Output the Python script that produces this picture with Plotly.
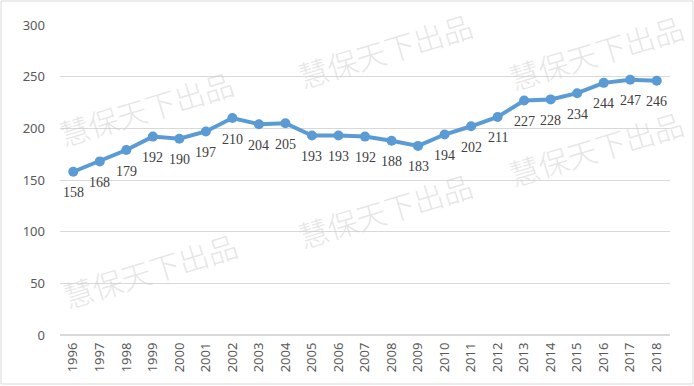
import plotly.graph_objects as go

years = [str(y) for y in range(1996, 2019)]
values = [158, 168, 179, 192, 190, 197, 210, 204, 205, 193, 193, 192, 188, 183,
          194, 202, 211, 227, 228, 234, 244, 247, 246]
y_ticks = [0, 50, 100, 150, 200, 250, 300]
watermark = "慧保天下出品"

fig = go.Figure()
fig.add_trace(go.Scatter(
    x=years, y=values, mode="lines+markers",
    line=dict(color="#5B9BD5", width=4),
    marker=dict(color="#5B9BD5", size=10),
    cliponaxis=False, hoverinfo="skip",
))

# data labels below points (category index positions on the x axis)
for i, v in enumerate(values):
    fig.add_annotation(
        x=i, y=v, xref="x", yref="y", text=str(v), showarrow=False,
        yshift=-21, xanchor="center", yanchor="middle",
        font=dict(family="Liberation Serif", size=14, color="#404040"),
    )

# watermarks (paper coordinates)
wm_pos = [(146, 108), (385, 50), (596, 148), (385, 210), (150, 270), (596, 52)]
for (px, py) in wm_pos:
    fig.add_annotation(
        x=(px - 60) / 610, y=1 - (py - 25) / 310, xref="paper", yref="paper",
        text=watermark, showarrow=False, textangle=-17,
        font=dict(family="Noto Sans CJK SC", size=30, weight=300,
                  color="rgba(205,205,205,0.5)"),
        xanchor="center", yanchor="middle",
    )

fig.update_layout(
    width=694, height=386,
    margin=dict(l=60, r=24, t=25, b=51),
    paper_bgcolor="white", plot_bgcolor="white",
    showlegend=False,
    xaxis=dict(
        type="category", range=[-0.5, 22.5], tickangle=-90, automargin=False,
        showgrid=False, showline=False, ticks="", ticklabelstandoff=4,
        tickfont=dict(family="Noto Sans", size=13, color="#595959"),
    ),
    yaxis=dict(
        range=[0, 300], tickvals=y_ticks, showgrid=True, gridcolor="#D9D9D9",
        gridwidth=1, zeroline=True, zerolinecolor="#D9D9D9", showline=False,
        ticks="", ticklabelstandoff=14, automargin=False,
        tickfont=dict(family="Noto Sans", size=13, color="#595959"),
    ),
    shapes=[dict(type="rect", xref="paper", yref="paper",
                 x0=-59/610, x1=1 + 23/610, y0=-49/310, y1=1 + 24/310,
                 line=dict(color="#D9D9D9", width=1))],
)

fig.write_html("out.html", config={"displayModeBar": False},
               post_script="document.body.style.margin='0';")
